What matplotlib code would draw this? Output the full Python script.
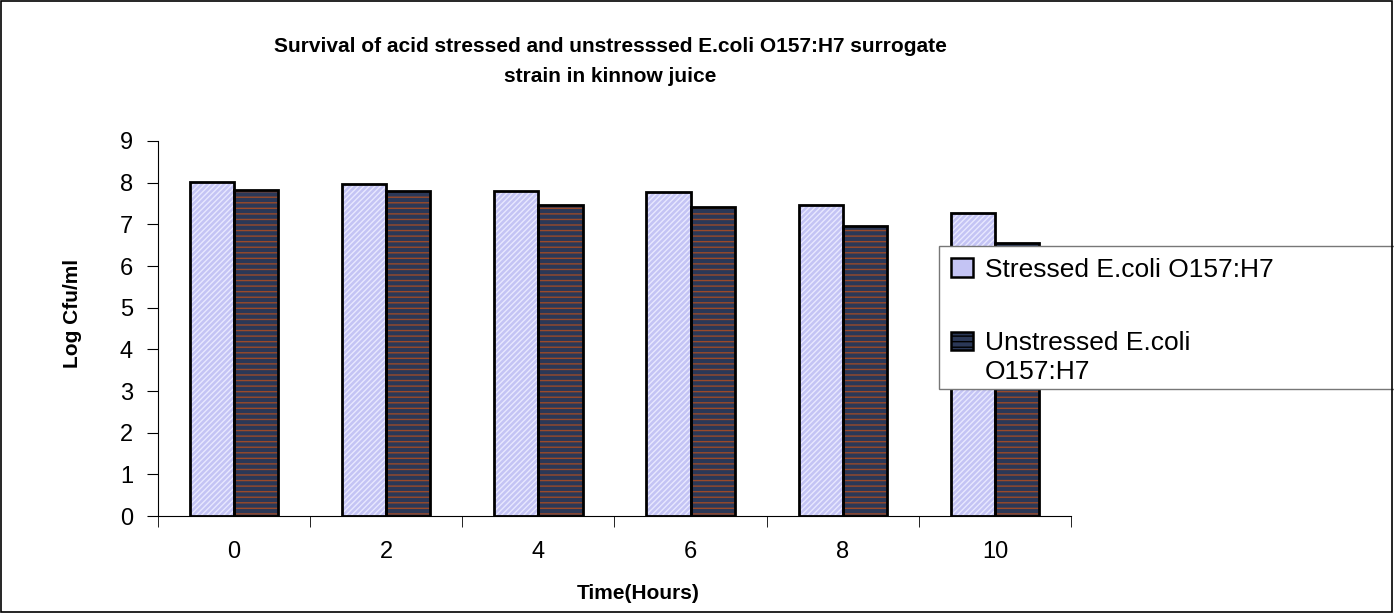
import numpy as np
import matplotlib.pyplot as plt
from matplotlib.patches import Rectangle

plt.rcParams['font.family'] = ['Liberation Sans', 'DejaVu Sans']

hours = ['0', '2', '4', '6', '8', '10']
stressed = [8.02, 7.97, 7.80, 7.78, 7.46, 7.27]
unstressed = [7.82, 7.80, 7.46, 7.42, 6.96, 6.55]

light = '#c4c4f4'
dark = '#2b3857'
stripe = '#9a4a2a'

fig = plt.figure(figsize=(13.94, 6.13), dpi=100)
ax = fig.add_axes([0.1133, 0.158, 0.655, 0.612])

x = np.arange(len(hours))
w = 0.29

# stressed bars: light lavender with fine pattern
ax.bar(x - w / 2, stressed, w, color=light, edgecolor='#e8e8ff',
       hatch='//////', linewidth=0, zorder=2)
ax.bar(x - w / 2, stressed, w, fill=False, edgecolor='black', linewidth=2, zorder=3)

# unstressed bars: navy with brown stripes
ax.bar(x + w / 2, unstressed, w, color=dark, edgecolor=stripe,
       hatch='---', linewidth=0, zorder=2)
ax.bar(x + w / 2, unstressed, w, fill=False, edgecolor='black', linewidth=2, zorder=3)

ax.set_xlim(-0.5, len(hours) - 0.5)
ax.set_ylim(0, 9)
ax.set_yticks(range(0, 10))
ax.set_xticks(x)
ax.set_xticklabels(hours)
ax.set_xticks(np.arange(-0.5, len(hours)), minor=True)
ax.tick_params(axis='x', which='major', length=0, pad=18, labelsize=17)
ax.tick_params(axis='x', which='minor', length=8, direction='out', color='black')
ax.tick_params(axis='y', length=8, direction='out', labelsize=17, pad=10)

for s in ['top', 'right']:
    ax.spines[s].set_visible(False)
ax.spines['left'].set_color('black')
ax.spines['bottom'].set_color('black')

ax.set_ylabel('Log Cfu/ml', fontsize=15, fontweight='bold')
ax.yaxis.set_label_coords(-0.083, 0.54)
ax.set_xlabel('Time(Hours)', fontsize=15, fontweight='bold')
ax.xaxis.set_label_coords(0.526, -0.18)

fig.text(0.4376, 0.900, 'Survival of acid stressed and unstresssed E.coli O157:H7 surrogate\nstrain in kinnow juice',
         ha='center', va='center', fontsize=15, fontweight='bold', linespacing=1.7)

# legend box (drawn by hand so the handles sit on the first text line)
fig.add_artist(Rectangle((0.6736, 0.3654), 0.34, 0.2338, transform=fig.transFigure,
                         facecolor='white', edgecolor='#777777', linewidth=1, zorder=5))
fig.add_artist(Rectangle((0.6822, 0.5481), 0.0158, 0.031, transform=fig.transFigure,
                         facecolor=light, edgecolor='black', linewidth=1.8, zorder=6))
fig.add_artist(Rectangle((0.6822, 0.4290), 0.0158, 0.0294, transform=fig.transFigure,
                         facecolor=dark, edgecolor='black', linewidth=1.8, hatch='---', zorder=6))
fig.text(0.7066, 0.548, 'Stressed E.coli O157:H7', fontsize=19, va='baseline', zorder=7)
fig.text(0.7066, 0.429, 'Unstressed E.coli', fontsize=19, va='baseline', zorder=7)
fig.text(0.7066, 0.382, 'O157:H7', fontsize=19, va='baseline', zorder=7)

fig.add_artist(Rectangle((0.0005, 0.001), 0.998, 0.997, transform=fig.transFigure,
                         fill=False, edgecolor='black', linewidth=1.2, zorder=8))

fig.savefig('out.png', dpi=100)
